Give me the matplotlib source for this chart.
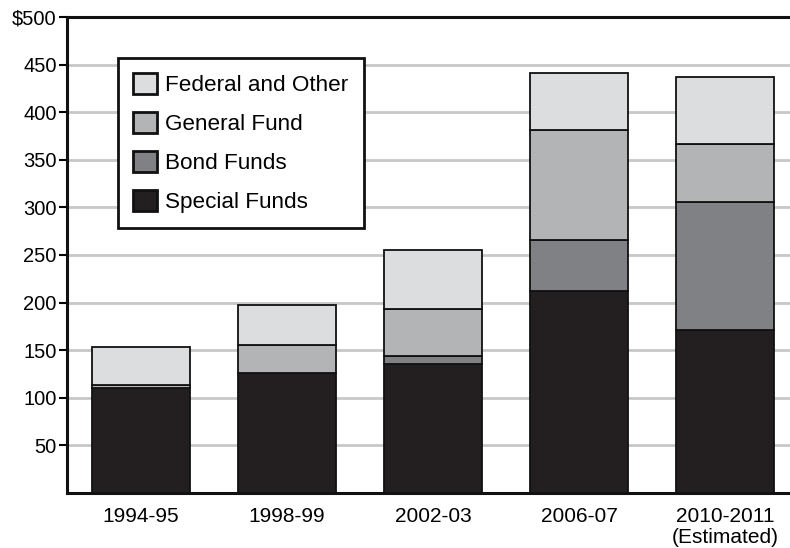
import matplotlib
matplotlib.use("Agg")
import matplotlib.pyplot as plt
import numpy as np

plt.rcParams['font.family'] = ['Liberation Sans', 'DejaVu Sans']

# Spending by fund source (millions of dollars)
years = ["1994-95", "1998-99", "2002-03", "2006-07", "2010-2011\n(Estimated)"]
special_funds = [110, 126, 136, 212, 171]
bond_funds = [0, 0, 8, 54, 135]
general_fund = [3, 29, 49, 115, 61]
federal_other = [40, 42, 62, 60, 70]

series = [
    ("Special Funds", special_funds, "#231f20"),
    ("Bond Funds", bond_funds, "#808184"),
    ("General Fund", general_fund, "#b3b4b6"),
    ("Federal and Other", federal_other, "#dcdddf"),
]

yticks = [50, 100, 150, 200, 250, 300, 350, 400, 450, 500]
ytick_labels = ["50", "100", "150", "200", "250", "300", "350", "400", "450", "$500"]

fig = plt.figure(figsize=(7.9, 5.48), dpi=100)
ax = fig.add_axes([67 / 790, 55 / 548, 1 - 67 / 790, 476 / 548])

x = np.arange(len(years))
bottom = np.zeros(len(years))
handles = []
for name, vals, color in series:
    vals = np.array(vals, dtype=float)
    bars = ax.bar(x, vals, width=0.67, bottom=bottom, color=color,
                  edgecolor="#111111", linewidth=1.3, label=name, zorder=3)
    handles.append(bars)
    bottom += vals

ax.set_xlim(-0.507, 4.445)
ax.set_ylim(0, 500)
ax.set_yticks(yticks)
ax.set_yticklabels(ytick_labels, fontsize=14.5)
ax.set_xticks(x)
ax.set_xticklabels(years, fontsize=15, linespacing=1.12)
ax.tick_params(axis="x", length=0, pad=10)
ax.tick_params(axis="y", length=6, width=1.5, pad=1.5, direction="out")

ax.yaxis.grid(True, color="#c6c7c8", linewidth=2, zorder=0)
ax.set_axisbelow(True)

for side in ("left", "bottom", "top"):
    ax.spines[side].set_linewidth(2.2)
    ax.spines[side].set_color("#111111")
ax.spines["right"].set_visible(False)

leg = ax.legend(handles[::-1], [s[0] for s in series][::-1],
                loc="upper left", bbox_to_anchor=(0.0705, 0.914),
                borderaxespad=0, fontsize=16.2, frameon=True, fancybox=False,
                handlelength=1.05, handleheight=1.05, handletextpad=0.38,
                labelspacing=0.7, borderpad=0.68)
leg.get_frame().set_edgecolor("#111111")
leg.get_frame().set_linewidth(2)
leg.get_frame().set_alpha(1)
for patch in leg.get_patches():
    patch.set_linewidth(2)

fig.savefig("out.png", dpi=100)
